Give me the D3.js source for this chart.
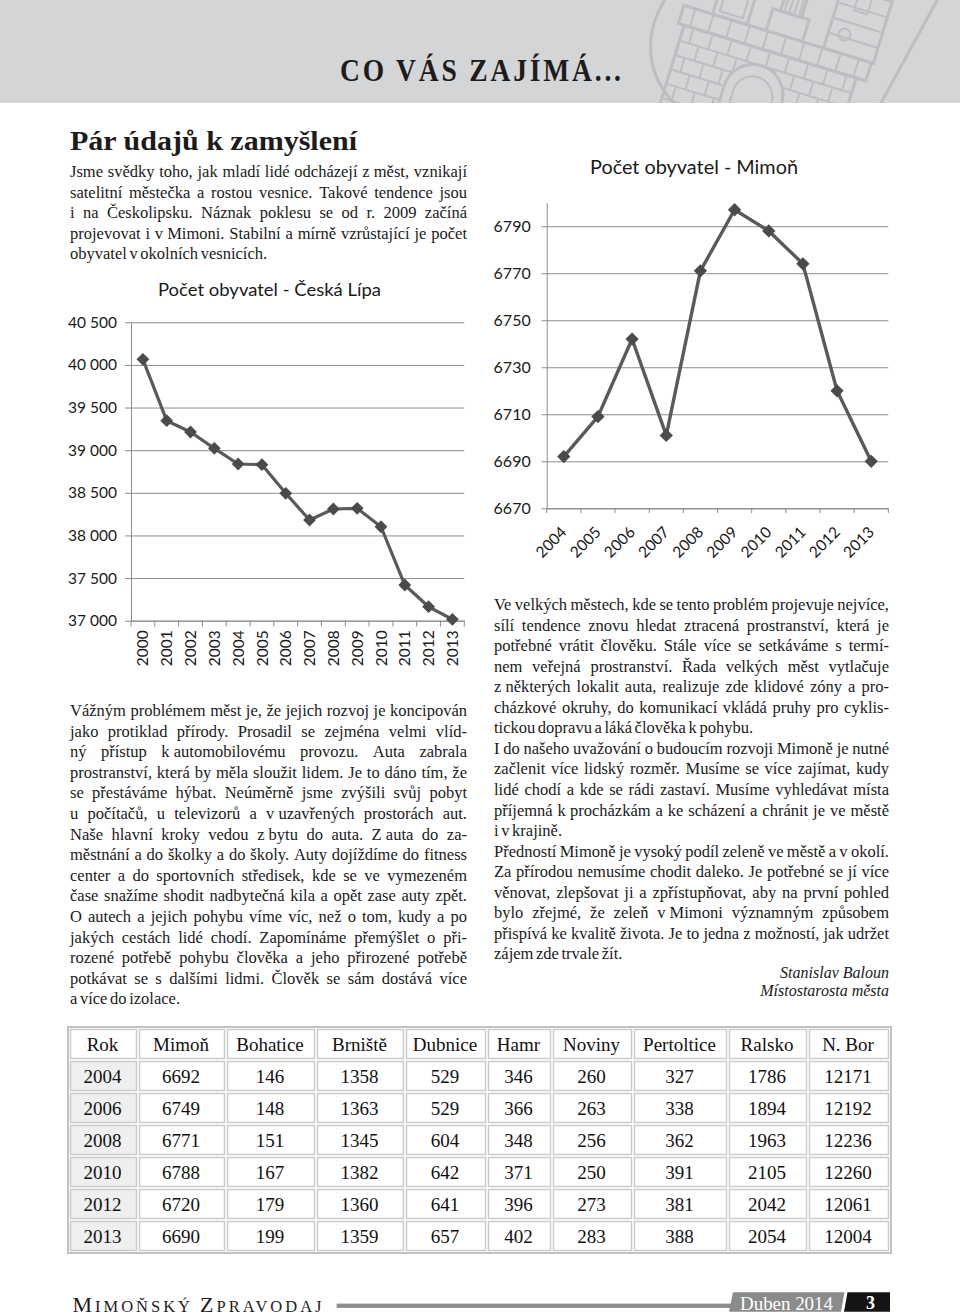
<!DOCTYPE html>
<html><head><meta charset="utf-8">
<script src="https://cdn.jsdelivr.net/npm/d3@7"></script>
<style>
html,body{margin:0;padding:0;background:#fff;}
svg{display:block;}
.body{font-family:"Liberation Serif","Times New Roman",serif;font-size:16.5px;fill:#1a1a1a;}
.chart text{font-family:Lato,"Open Sans",sans-serif;fill:#1a1a1a;}
.tbl{font-family:"Liberation Serif","Times New Roman",serif;font-size:19px;fill:#111;}
</style></head><body>
<svg id="page" width="960" height="1316"></svg>
<script>
// ---------------- DATA ----------------
const lipaYears = ["2000","2001","2002","2003","2004","2005","2006","2007","2008","2009","2010","2011","2012","2013"];
const lipaPopulation = [40066,39346,39213,39022,38838,38830,38494,38181,38310,38318,38102,37419,37164,37016];
const lipaTicks = [37000,37500,38000,38500,39000,39500,40000,40500];

const mimonYears = ["2004","2005","2006","2007","2008","2009","2010","2011","2012","2013"];
const mimonPopulation = [6692,6709,6742,6701,6771,6797,6788,6774,6720,6690];
const mimonTicks = [6670,6690,6710,6730,6750,6770,6790];

const tableColumns = ["Rok","Mimoň","Bohatice","Brniště","Dubnice","Hamr","Noviny","Pertoltice","Ralsko","N. Bor"];
const tableYears = ["2004","2006","2008","2010","2012","2013"];
const tableMimon = [6692,6749,6771,6788,6720,6690];
const tableBohatice = [146,148,151,167,179,199];
const tableBrniste = [1358,1363,1345,1382,1360,1359];
const tableDubnice = [529,529,604,642,641,657];
const tableHamr = [346,366,348,371,396,402];
const tableNoviny = [260,263,256,250,273,283];
const tablePertoltice = [327,338,362,391,381,388];
const tableRalsko = [1786,1894,1963,2105,2042,2054];
const tableNBor = [12171,12192,12236,12260,12061,12004];

const introLines = [[
 "Jsme svědky toho, jak mladí lidé odcházejí z~měst, vznikají",
 "satelitní městečka a rostou vesnice. Takové tendence jsou",
 "i na Českolipsku. Náznak poklesu se od r. 2009 začíná",
 "projevovat i v~Mimoni. Stabilní a mírně vzrůstající je počet",
 "obyvatel v~okolních vesnicích."]];
const leftLines = [[
 "Vážným problémem měst je, že jejich rozvoj je koncipován",
 "jako protiklad přírody. Prosadil se zejména velmi vlíd-",
 "ný přístup k~automobilovému provozu. Auta zabrala",
 "prostranství, která by měla sloužit lidem. Je to dáno tím, že",
 "se přestáváme hýbat. Neúměrně jsme zvýšili svůj pobyt",
 "u počítačů, u televizorů a v~uzavřených prostorách aut.",
 "Naše hlavní kroky vedou z~bytu do auta. Z~auta do za-",
 "městnání a do školky a do školy. Auty dojíždíme do fitness",
 "center a do sportovních středisek, kde se ve vymezeném",
 "čase snažíme shodit nadbytečná kila a opět zase auty zpět.",
 "O autech a jejich pohybu víme víc, než o tom, kudy a po",
 "jakých cestách lidé chodí. Zapomínáme přemýšlet o při-",
 "rozené potřebě pohybu člověka a jeho přirozené potřebě",
 "potkávat se s dalšími lidmi. Člověk se sám dostává více",
 "a více do izolace."]];
const rightLines = [[
 "Ve velkých městech, kde se tento problém projevuje nejvíce,",
 "sílí tendence znovu hledat ztracená prostranství, která je",
 "potřebné vrátit člověku. Stále více se setkáváme s termí-",
 "nem veřejná prostranství. Řada velkých měst vytlačuje",
 "z~některých lokalit auta, realizuje zde klidové zóny a pro-",
 "cházkové okruhy, do komunikací vkládá pruhy pro cyklis-",
 "tickou dopravu a láká člověka k~pohybu."],[
 "I do našeho uvažování o budoucím rozvoji Mimoně je nutné",
 "začlenit více lidský rozměr. Musíme se více zajímat, kudy",
 "lidé chodí a kde se rádi zastaví. Musíme vyhledávat místa",
 "příjemná k~procházkám a ke scházení a chránit je ve městě",
 "i v~krajině."],[
 "Předností Mimoně je vysoký podíl zeleně ve městě a v okolí.",
 "Za přírodou nemusíme chodit daleko. Je potřebné se jí více",
 "věnovat, zlepšovat ji a zpřístupňovat, aby na první pohled",
 "bylo zřejmé, že zeleň v~Mimoni významným způsobem",
 "přispívá ke kvalitě života. Je to jedna z~možností, jak udržet",
 "zájem zde trvale žít."]];

// ---------------- PAGE ----------------
const svg = d3.select("#page");
svg.append("rect").attr("width",960).attr("height",1316).attr("fill","#fff");

// header band
svg.append("rect").attr("x",0).attr("y",0).attr("width",960).attr("height",103).attr("fill","#d4d5d7");
svg.append("clipPath").attr("id","hdrclip").append("rect").attr("width",960).attr("height",103);
const logo = svg.append("g").attr("clip-path","url(#hdrclip)").attr("fill","none")
  .attr("stroke","#bcbec0").attr("stroke-width",3);
logo.append("path").attr("d","M668,-5 C640,35 646,82 684,112");
logo.append("path").attr("d","M940,-5 L876,112");
const castle = logo.append("g").attr("transform","translate(780,40) rotate(17)");
castle.append("rect").attr("x",-102).attr("y",-5).attr("width",196).attr("height",19);
d3.range(-90,94,19).forEach(x=>castle.append("line").attr("x1",x).attr("x2",x).attr("y1",-5).attr("y2",14).attr("stroke-width",2));
castle.append("rect").attr("x",-96).attr("y",14).attr("width",180).attr("height",90);
d3.range(0,5).forEach(r=>{
  castle.append("line").attr("x1",-96).attr("x2",84).attr("y1",30+r*15).attr("y2",30+r*15).attr("stroke-width",2);
  d3.range(-86+(r%2)*10,84,20).forEach(x=>castle.append("line").attr("x1",x).attr("x2",x).attr("y1",14+r*15+2).attr("y2",30+r*15).attr("stroke-width",2));
});
castle.append("path").attr("d","M-40,104 L-40,60 A30,30 0 0 1 20,60 L20,104").attr("fill","#d4d5d7");
castle.append("path").attr("d","M-30,104 L-30,62 A20,20 0 0 1 10,62 L10,104").attr("stroke-width",2);
castle.append("rect").attr("x",-72).attr("y",-45).attr("width",36).attr("height",40);
castle.append("rect").attr("x",-66).attr("y",-40).attr("width",24).attr("height",30).attr("stroke-width",2);
castle.append("rect").attr("x",-16).attr("y",-28).attr("width",38).attr("height",23);
castle.append("rect").attr("x",-8).attr("y",-70).attr("width",22).attr("height",42);
d3.range(-4,14,5).forEach(x=>castle.append("line").attr("x1",x).attr("x2",x).attr("y1",-70).attr("y2",-30).attr("stroke-width",2));
castle.append("rect").attr("x",44).attr("y",-95).attr("width",52).attr("height",90);
castle.append("rect").attr("x",62).attr("y",-80).attr("width",14).attr("height",30).attr("stroke-width",2);
castle.append("circle").attr("cx",60).attr("cy",-24).attr("r",6).attr("stroke-width",2);
d3.range(0,5).forEach(r=>castle.append("line").attr("x1",44).attr("x2",96).attr("y1",-85+r*16).attr("y2",-85+r*16).attr("stroke-width",2));

svg.append("g").attr("transform","translate(340,81) scale(0.86,1)")
  .append("text").attr("x",0).attr("y",0).attr("textLength",281/0.86).attr("lengthAdjust","spacing")
  .style("font-family","'Liberation Serif',serif").style("font-weight","bold").style("font-size","32px")
  .attr("fill","#1c1c1c").text("CO VÁS ZAJÍMÁ...");

// ---------------- TEXT BLOCKS ----------------
function drawLine(g, str, x0, x1, y, justify){
  str = str.replace(/~/g,"\u00a0");
  const t = g.append("text").attr("class","body").attr("y",y);
  const words = str.split(" ");
  if(!justify || words.length<2){
    t.attr("x",x0).style("word-spacing","-1.5px").text(str);
    return;
  }
  const spans = words.map(w=>t.append("tspan").text(w));
  const widths = spans.map(s=>s.node().getComputedTextLength());
  const sum = d3.sum(widths);
  const W = x1-x0;
  const gap = (W-sum)/(words.length-1);
  if(gap < 2.2){
    t.selectAll("tspan").remove();
    t.attr("x",x0).attr("textLength",W).attr("lengthAdjust","spacingAndGlyphs").text(str);
    return;
  }
  let x = x0;
  spans.forEach((s,i)=>{ s.attr("x",x); x += widths[i]+gap; });
}
function drawParas(paras, x0, x1, y0, lh){
  const g = svg.append("g");
  let k=0;
  paras.forEach(p=>p.forEach((ln,i)=>{ drawLine(g, ln, x0, x1, y0+lh*k, i<p.length-1); k++; }));
}

svg.append("text").attr("x",70).attr("y",149.5).attr("textLength",287).attr("lengthAdjust","spacingAndGlyphs")
  .style("font-family","'Liberation Serif',serif").style("font-weight","bold").style("font-size","27px")
  .attr("fill","#1c1c1c").text("Pár údajů k zamyšlení");
drawParas(introLines, 70, 467, 177, 20.6);
drawParas(leftLines, 70, 467, 716, 20.6);
drawParas(rightLines, 494, 889, 610, 20.55);
svg.append("text").attr("class","body").attr("x",889).attr("y",977.5).attr("text-anchor","end")
  .style("font-style","italic").style("font-size","16px").text("Stanislav Baloun");
svg.append("text").attr("class","body").attr("x",889).attr("y",995.5).attr("text-anchor","end")
  .style("font-style","italic").style("font-size","16px").text("Místostarosta města");

// ---------------- CHART: ČESKÁ LÍPA ----------------
const gridColor = "#8c8c8c";
const lipa = svg.append("g").attr("class","chart");
const xL = d3.scaleBand().domain(lipaYears).range([131,464.3]);
const yL = d3.scaleLinear().domain([37000,40500]).range([620.7,322.3]);
const czFmt = d3.formatLocale({decimal:",",thousands:" ",grouping:[3],currency:["",""]}).format(",");

const yAxL = lipa.append("g").attr("transform","translate(131,0)")
  .call(d3.axisLeft(yL).tickValues(lipaTicks).tickFormat(czFmt)
        .tickSizeInner(-(464.3-131)).tickSizeOuter(0).tickPadding(14))
  .attr("font-family",null).attr("font-size",null);
yAxL.selectAll(".tick line").attr("x1",-6).attr("stroke",gridColor);
yAxL.select(".domain").attr("stroke",gridColor);
yAxL.selectAll(".tick text").style("font-size","15.5px").attr("fill","#1a1a1a");

const xAxL = lipa.append("g").attr("transform","translate(0,620.7)")
  .call(d3.axisBottom(xL).tickSize(0).tickPadding(0))
  .attr("font-family",null).attr("font-size",null);
xAxL.select(".domain").attr("stroke",gridColor);
xAxL.selectAll(".tick text").attr("transform","rotate(-90)").attr("text-anchor","end")
  .attr("x",-9.5).attr("y",0).attr("dy","0.36em").style("font-size","15.5px").attr("fill","#1a1a1a");
lipa.append("g").selectAll("line").data(lipaYears.map(d=>xL(d)).concat([xL.range()[1]])).join("line")
  .attr("x1",d=>d).attr("x2",d=>d).attr("y1",620.7).attr("y2",626.5).attr("stroke",gridColor);

const cxL = (d,i)=>xL(lipaYears[i])+xL.bandwidth()/2;
lipa.append("path").datum(lipaPopulation)
  .attr("d",d3.line().x(cxL).y(d=>yL(d)))
  .attr("fill","none").attr("stroke","#5a5a5a").attr("stroke-width",3.2).attr("stroke-linejoin","round");
lipa.append("g").selectAll("path").data(lipaPopulation).join("path")
  .attr("transform",(d,i)=>`translate(${cxL(d,i)},${yL(d)}) rotate(45)`)
  .attr("d",d3.symbol(d3.symbolSquare,82)).attr("fill","#4b4b4b");
lipa.append("text").attr("x",158).attr("y",295.5).attr("textLength",223).attr("lengthAdjust","spacingAndGlyphs")
  .style("font-size","17.5px").text("Počet obyvatel - Česká Lípa");

// ---------------- CHART: MIMOŇ ----------------
const mim = svg.append("g").attr("class","chart");
const xM = d3.scaleBand().domain(mimonYears).range([546.7,888.3]);
const yM = d3.scaleLinear().domain([6670,6800]).range([508.3,202.7]);

const yAxM = mim.append("g").attr("transform","translate(546.7,0)")
  .call(d3.axisLeft(yM).tickValues(mimonTicks).tickFormat(d3.format("d"))
        .tickSizeInner(-(888.3-546.7)).tickSizeOuter(0).tickPadding(16))
  .attr("font-family",null).attr("font-size",null);
yAxM.selectAll(".tick line").attr("x1",-5).attr("stroke",gridColor);
yAxM.select(".domain").attr("stroke",gridColor);
yAxM.selectAll(".tick text").style("font-size","16px").attr("fill","#1a1a1a");

const xAxM = mim.append("g").attr("transform","translate(0,508.3)")
  .call(d3.axisBottom(xM).tickSize(0).tickPadding(0))
  .attr("font-family",null).attr("font-size",null);
xAxM.select(".domain").attr("stroke",gridColor);
xAxM.selectAll(".tick text").attr("transform","translate(0,21) rotate(-45)").attr("text-anchor","end")
  .attr("x",0).attr("y",0).attr("dy","0.36em").style("font-size","15.5px").attr("fill","#1a1a1a");
mim.append("g").selectAll("line").data(mimonYears.map(d=>xM(d)).concat([xM.range()[1]])).join("line")
  .attr("x1",d=>d).attr("x2",d=>d).attr("y1",508.3).attr("y2",513).attr("stroke",gridColor);

const cxM = (d,i)=>xM(mimonYears[i])+xM.bandwidth()/2;
mim.append("path").datum(mimonPopulation)
  .attr("d",d3.line().x(cxM).y(d=>yM(d)))
  .attr("fill","none").attr("stroke","#5a5a5a").attr("stroke-width",3.4).attr("stroke-linejoin","round");
mim.append("g").selectAll("path").data(mimonPopulation).join("path")
  .attr("transform",(d,i)=>`translate(${cxM(d,i)},${yM(d)}) rotate(45)`)
  .attr("d",d3.symbol(d3.symbolSquare,88)).attr("fill","#4b4b4b");
mim.append("text").attr("x",590).attr("y",173.5).attr("textLength",208).attr("lengthAdjust","spacingAndGlyphs")
  .style("font-size","18.5px").text("Počet obyvatel - Mimoň");

// ---------------- TABLE ----------------
const colEdges = [69,138,226,316,405,487,552,633,728,808,890];
const tableTop = 1028, rowH = 32;
const tableCols = [tableYears, tableMimon, tableBohatice, tableBrniste, tableDubnice, tableHamr,
                   tableNoviny, tablePertoltice, tableRalsko, tableNBor];
const tbl = svg.append("g");
tbl.append("rect").attr("x",colEdges[0]-1).attr("y",tableTop-1)
  .attr("width",colEdges[10]-colEdges[0]+2).attr("height",rowH*7+2)
  .attr("fill","none").attr("stroke","#c2c2c2").attr("stroke-width",2);
const rows = [tableColumns].concat(tableYears.map((y,r)=>tableCols.map(c=>String(c[r]))));
rows.forEach((row,r)=>{
  row.forEach((val,c)=>{
    const x0 = colEdges[c], x1 = colEdges[c+1], y0 = tableTop + r*rowH;
    tbl.append("rect").attr("x",x0+1.5).attr("y",y0+1.5).attr("width",x1-x0-3).attr("height",rowH-3)
      .attr("fill", (c===0 && r>0) ? "#efefef" : "#fff")
      .attr("stroke","#cbcbcb").attr("stroke-width",1.5);
    tbl.append("text").attr("class","tbl").attr("x",(x0+x1)/2-1).attr("y",y0+rowH/2+6.5)
      .attr("text-anchor","middle").text(val);
  });
});

// ---------------- FOOTER ----------------
const foot = svg.append("g");
const ft = foot.append("text").attr("x",72.5).attr("y",1311.5).attr("textLength",249).attr("lengthAdjust","spacing")
  .style("font-family","'Liberation Serif',serif").attr("fill","#1c1c1c");
ft.append("tspan").style("font-size","22px").text("M");
ft.append("tspan").style("font-size","16.5px").text("IMOŇSKÝ ");
ft.append("tspan").style("font-size","22px").text("Z");
ft.append("tspan").style("font-size","16.5px").text("PRAVODAJ");
foot.append("rect").attr("x",336.7).attr("y",1303.6).attr("width",396).attr("height",4.3).attr("fill","#8c8c8c");
foot.append("path").attr("d","M733,1292.3 L844.5,1292.3 L841,1311.7 L729,1311.7 Z").attr("fill","#8b8b8b");
foot.append("path").attr("d","M847.5,1292.3 L890,1292.3 L890,1311.7 L844,1311.7 Z").attr("fill","#141414");
foot.append("text").attr("x",740).attr("y",1309.5).attr("textLength",93).attr("lengthAdjust","spacing")
  .style("font-family","'Liberation Serif',serif").style("font-size","19px").attr("fill","#fff").text("Duben 2014");
foot.append("text").attr("x",870.5).attr("y",1309).attr("text-anchor","middle")
  .style("font-family","'Liberation Serif',serif").style("font-weight","bold").style("font-size","18px").attr("fill","#fff").text("3");
</script></body></html>
